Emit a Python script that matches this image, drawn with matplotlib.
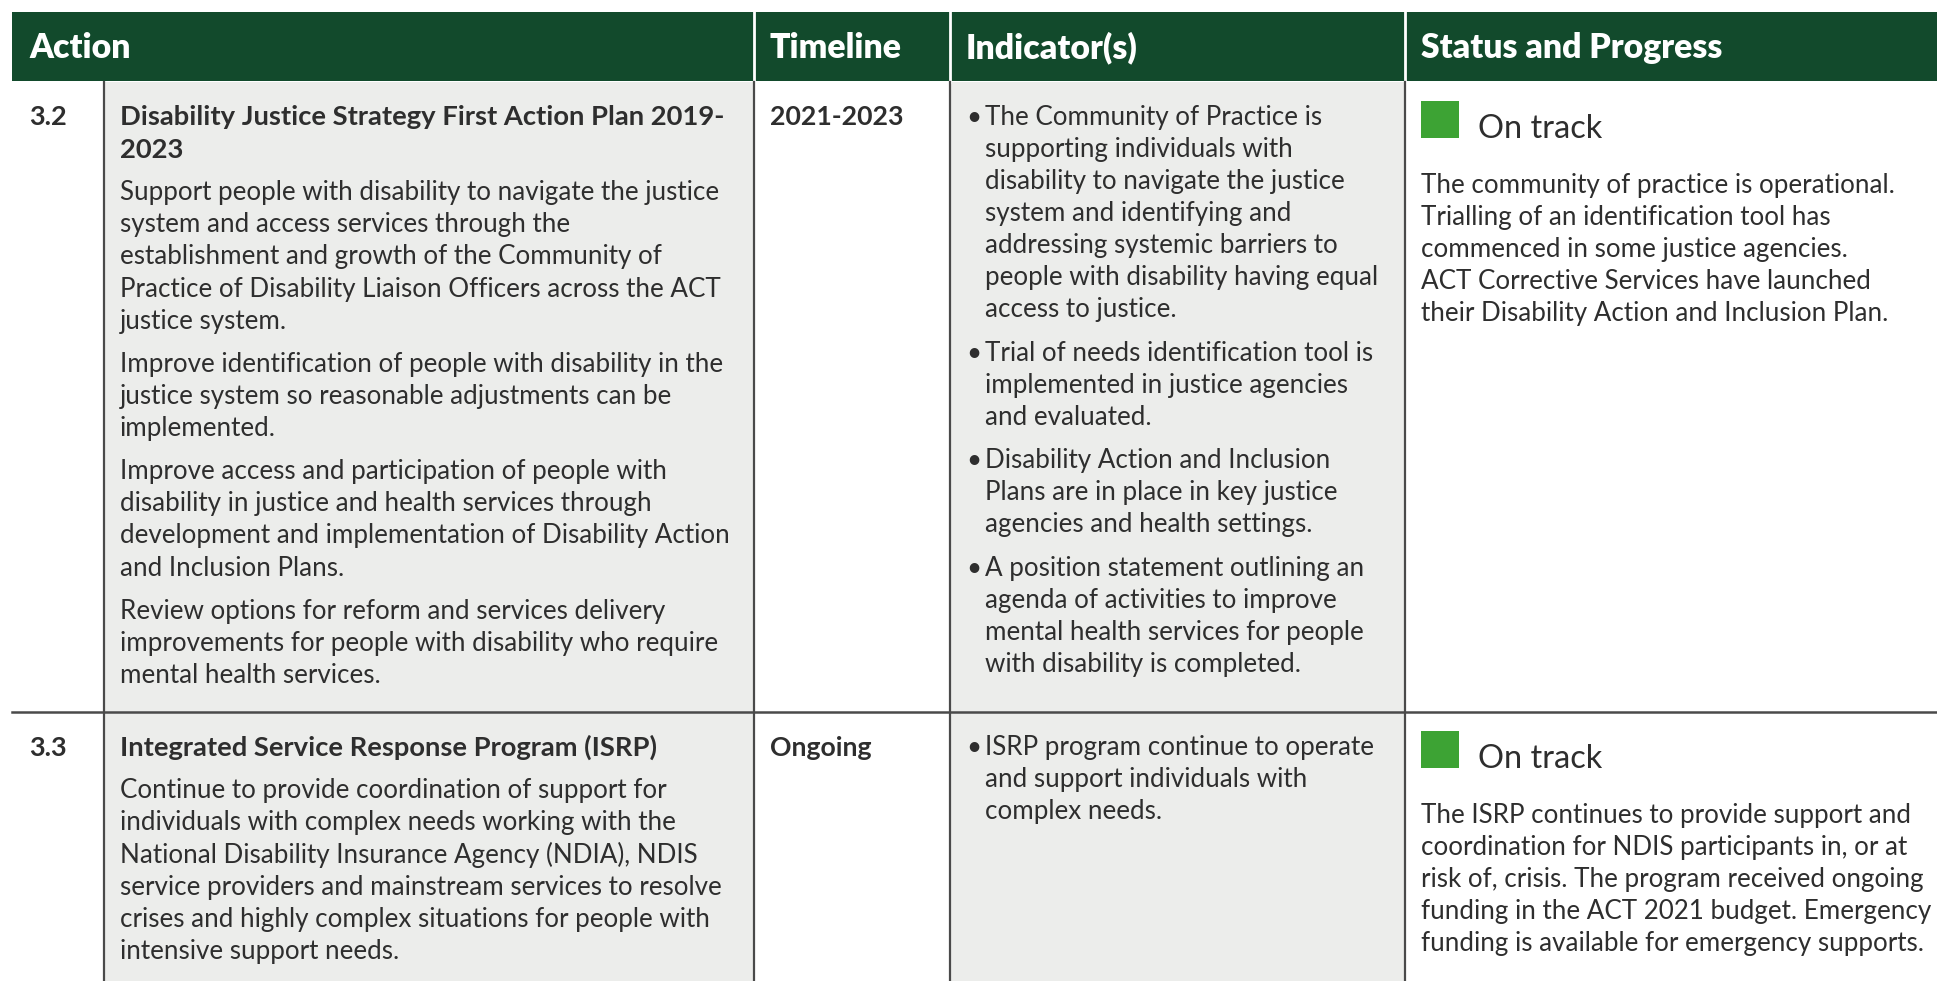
import matplotlib
matplotlib.use("Agg")
import matplotlib.pyplot as plt
from matplotlib.patches import Rectangle

# ---- table content ----
headers = ["Action", "Timeline", "Indicator(s)", "Status and Progress"]
action_ids = ["3.2", "3.3"]
action_titles = [
    ["Disability Justice Strategy First Action Plan 2019-", "2023"],
    ["Integrated Service Response Program (ISRP)"],
]
action_paragraphs = [
    [
        ["Support people with disability to navigate the justice",
         "system and access services through the",
         "establishment and growth of the Community of",
         "Practice of Disability Liaison Officers across the ACT",
         "justice system."],
        ["Improve identification of people with disability in the",
         "justice system so reasonable adjustments can be",
         "implemented."],
        ["Improve access and participation of people with",
         "disability in justice and health services through",
         "development and implementation of Disability Action",
         "and Inclusion Plans."],
        ["Review options for reform and services delivery",
         "improvements for people with disability who require",
         "mental health services."],
    ],
    [
        ["Continue to provide coordination of support for",
         "individuals with complex needs working with the",
         "National Disability Insurance Agency (NDIA), NDIS",
         "service providers and mainstream services to resolve",
         "crises and highly complex situations for people with",
         "intensive support needs."],
    ],
]
timelines = ["2021-2023", "Ongoing"]
indicators = [
    [
        ["The Community of Practice is",
         "supporting individuals with",
         "disability to navigate the justice",
         "system and identifying and",
         "addressing systemic barriers to",
         "people with disability having equal",
         "access to justice."],
        ["Trial of needs identification tool is",
         "implemented in justice agencies",
         "and evaluated."],
        ["Disability Action and Inclusion",
         "Plans are in place in key justice",
         "agencies and health settings."],
        ["A position statement outlining an",
         "agenda of activities to improve",
         "mental health services for people",
         "with disability is completed."],
    ],
    [
        ["ISRP program continue to operate",
         "and support individuals with",
         "complex needs."],
    ],
]
statuses = ["On track", "On track"]
status_notes = [
    ["The community of practice is operational.",
     "Trialling of an identification tool has",
     "commenced in some justice agencies.",
     "ACT Corrective Services have launched",
     "their Disability Action and Inclusion Plan."],
    ["The ISRP continues to provide support and",
     "coordination for NDIS participants in, or at",
     "risk of, crisis. The program received ongoing",
     "funding in the ACT 2021 budget. Emergency",
     "funding is available for emergency supports."],
]

# ---- styling / layout (pixels) ----
W, H = 1937, 981
GREEN = "#124a2c"
STATUS_GREEN = "#3da334"
GREY = "#ecedeb"
TEXT = "#2e2e2e"
LINE = "#4a4a4a"
FONT = "Lato"

left = 12
col_x = [left, 104, 753.5, 950, 1404.5, W]   # id | action | timeline | indicators | status
head_top, head_bot = 12.4, 81.5
row_tops = [head_bot, 711.6]
line_h = 32.1
para_gap = 11.1
first_off = 35.9
body_fs = 18.7
action_fs = 18.7
title_fs = 19.7
head_fs = 24.3

fig = plt.figure(figsize=(W / 100, H / 100), dpi=100)
ax = fig.add_axes([0, 0, 1, 1])
ax.set_xlim(0, W)
ax.set_ylim(H, 0)
ax.axis("off")

# grey columns
for c in (1, 3):
    ax.add_patch(Rectangle((col_x[c], head_bot), col_x[c + 1] - col_x[c], H - head_bot,
                           facecolor=GREY, edgecolor="none", zorder=0))

# header band
ax.add_patch(Rectangle((left, head_top), W - left, head_bot - head_top,
                       facecolor=GREEN, edgecolor="none", zorder=1))
head_x = [29.6, 769.6, 966, 1420.6]
for hx, h in zip(head_x, headers):
    ax.text(hx, (head_top + head_bot) / 2 + 1, h, color="white", fontsize=head_fs,
            fontweight="heavy", family=FONT, va="center", ha="left", zorder=3)
for x in col_x[2:5]:
    ax.plot([x, x], [head_top, head_bot], color="white", lw=2, zorder=2)

# body grid lines
for x in col_x[1:5]:
    ax.plot([x, x], [head_bot, H], color=LINE, lw=1.6, zorder=2)
ax.plot([left, W], [row_tops[1], row_tops[1]], color=LINE, lw=1.8, zorder=2)


def draw_lines(x, y, lines, **kw):
    for ln in lines:
        ax.text(x, y, ln, va="center", ha="left", color=TEXT, zorder=3, **kw)
        y += line_h
    return y


for r in range(len(action_ids)):
    y0 = row_tops[r] + first_off
    # id
    ax.text(29.6, y0, action_ids[r], fontsize=19.5, fontweight="bold", family=FONT,
            va="center", ha="left", color=TEXT)
    # action title + paragraphs
    y = draw_lines(119.8, y0, action_titles[r], fontsize=title_fs, fontweight="bold", family=FONT)
    for para in action_paragraphs[r]:
        y = draw_lines(119.8, y + para_gap, para, fontsize=action_fs, family=FONT)
    # timeline
    ax.text(769.6, y0, timelines[r], fontsize=19.2, fontweight="bold", family=FONT,
            va="center", ha="left", color=TEXT)
    # indicators
    y = y0
    for bullet in indicators[r]:
        ax.text(966.5, y, "\u2022", fontsize=body_fs, family=FONT, va="center", ha="left", color=TEXT)
        y = draw_lines(984.6, y, bullet, fontsize=body_fs, family=FONT) + para_gap
    # status
    sq_top = row_tops[r] + 19.5
    ax.add_patch(Rectangle((1420.6, sq_top), 38.4, 37, facecolor=STATUS_GREEN,
                           edgecolor="none", zorder=3))
    ax.text(1477.5, sq_top + 27.5, statuses[r], fontsize=23.4, family=FONT,
            va="center", ha="left", color=TEXT)
    draw_lines(1420.6, row_tops[r] + 103.8, status_notes[r], fontsize=body_fs, family=FONT)

fig.savefig("out.png", dpi=100, facecolor="white")
